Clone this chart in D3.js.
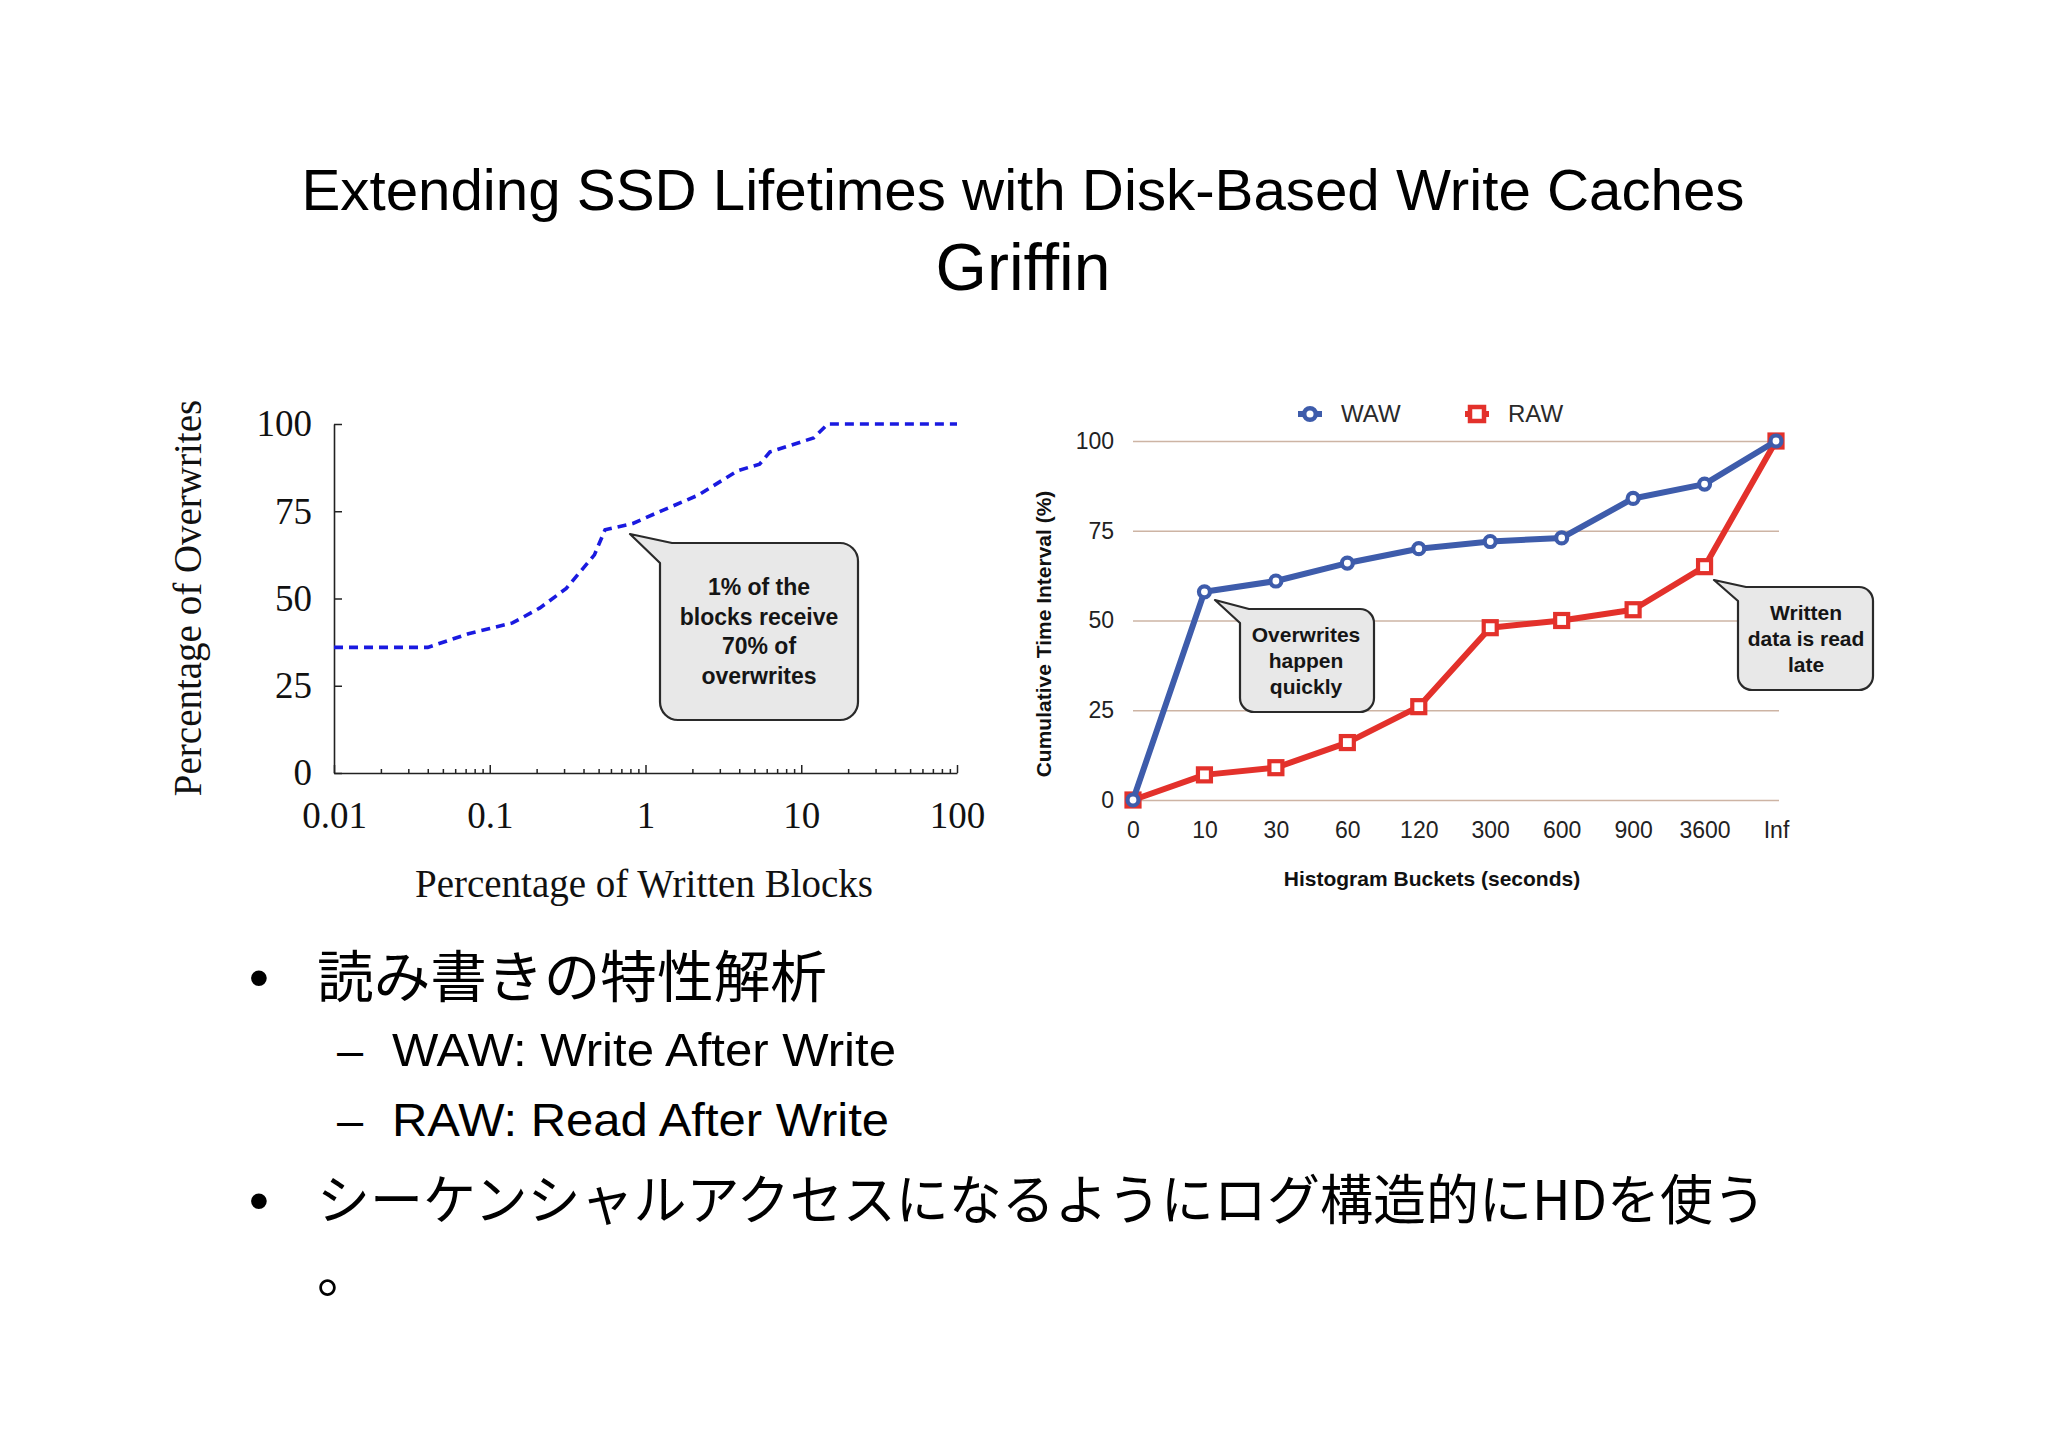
<!DOCTYPE html>
<html>
<head>
<meta charset="utf-8">
<script src="https://cdn.jsdelivr.net/npm/d3@7"></script>
<style>
  html, body { margin: 0; padding: 0; background: #fff; }
  svg { display: block; }
  .serif text, text.serif { font-family: "Liberation Serif", "DejaVu Serif", serif; }
  .sans { font-family: "Liberation Sans", Arial, sans-serif; }
</style>
</head>
<body>
<script>
// left chart: cumulative overwrites vs written blocks (log x)
const blocksPct = [0.01, 0.04, 0.073, 0.1, 0.14, 0.21, 0.31, 0.47, 0.55, 0.83, 1.15, 2.2, 3.9, 5.4, 6.3, 12, 14.8, 100];
const overwritesPct = [36, 36, 39.9, 41.4, 43, 47.3, 52.9, 62.5, 69.7, 71.5, 74.3, 79.7, 86.6, 88.5, 92, 96, 100, 100];
const leftXTicks = [0.01, 0.1, 1, 10, 100];
const leftXLabels = ['0.01', '0.1', '1', '10', '100'];
const leftYTicks = [0, 25, 50, 75, 100];

// right chart: histogram buckets
const buckets = ['0', '10', '30', '60', '120', '300', '600', '900', '3600', 'Inf'];
const waw = [0, 58, 61, 66, 70, 72, 73, 84, 88, 100];
const raw = [0, 7, 9, 16, 26, 48, 50, 53, 65, 100];
const rightYTicks = [0, 25, 50, 75, 100];

const W = 2048, H = 1447;
const svg = d3.select('body').append('svg')
  .attr('width', W)
  .attr('height', H);

svg.append('rect').attr('width', W).attr('height', H).attr('fill', '#fff');

// ---- titles
svg.append('text')
  .attr('class', 'sans')
  .attr('x', 1023).attr('y', 210)
  .attr('text-anchor', 'middle')
  .attr('font-size', 58)
  .attr('textLength', 1443)
  .attr('lengthAdjust', 'spacingAndGlyphs')
  .text('Extending SSD Lifetimes with Disk-Based Write Caches');

svg.append('text')
  .attr('class', 'sans')
  .attr('x', 1023).attr('y', 290)
  .attr('text-anchor', 'middle')
  .attr('font-size', 66)
  .text('Griffin');

// ---- left chart
const xL = d3.scaleLog().domain([0.01, 100]).range([334, 957]);
const yL = d3.scaleLinear().domain([0, 100]).range([773, 424]);

const gL = svg.append('g').attr('class', 'serif');

// minor ticks (2..9 in each decade)
gL.append('g')
  .attr('transform', 'translate(0,773)')
  .call(d3.axisBottom(xL)
    .tickValues(xL.ticks().filter(d => !leftXTicks.includes(d)))
    .tickSizeInner(-4).tickSizeOuter(0).tickFormat(''))
  .call(g => g.select('.domain').remove())
  .selectAll('line').attr('stroke', '#222').attr('stroke-width', 1.5);

gL.append('g')
  .attr('transform', 'translate(0,773)')
  .call(d3.axisBottom(xL)
    .tickValues(leftXTicks)
    .tickSizeInner(-8).tickSizeOuter(0).tickPadding(29)
    .tickFormat((d, i) => leftXLabels[i]))
  .call(g => g.select('.domain').attr('stroke', '#222').attr('stroke-width', 1.6))
  .call(g => g.selectAll('line').attr('stroke', '#222').attr('stroke-width', 1.5))
  .call(g => g.selectAll('text')
    .attr('font-size', 37).attr('fill', '#111')
    .attr('font-family', '"Liberation Serif", serif'));

gL.append('g')
  .attr('transform', 'translate(334,0)')
  .call(d3.axisLeft(yL)
    .tickValues(leftYTicks)
    .tickSizeInner(-8).tickSizeOuter(0).tickPadding(22))
  .call(g => g.select('.domain').attr('stroke', '#222').attr('stroke-width', 1.6))
  .call(g => g.selectAll('line').attr('stroke', '#222').attr('stroke-width', 1.5))
  .call(g => g.selectAll('text')
    .attr('font-size', 37).attr('fill', '#111')
    .attr('font-family', '"Liberation Serif", serif'));

const leftLine = d3.line()
  .x((d, i) => xL(blocksPct[i]))
  .y(d => yL(d));

gL.append('path')
  .datum(overwritesPct)
  .attr('d', leftLine)
  .attr('fill', 'none')
  .attr('stroke', '#1a1ae0')
  .attr('stroke-width', 3.6)
  .attr('stroke-dasharray', '9,6');

gL.append('text')
  .attr('x', 644).attr('y', 883).attr('dy', '0.35em')
  .attr('text-anchor', 'middle')
  .attr('font-size', 39)
  .attr('fill', '#111')
  .text('Percentage of Written Blocks');

gL.append('text')
  .attr('transform', 'translate(187,598) rotate(-90)')
  .attr('dy', '0.35em')
  .attr('text-anchor', 'middle')
  .attr('font-size', 39)
  .attr('fill', '#111')
  .text('Percentage of Overwrites');

// speech bubble with pointer replacing the top-left corner
function bubblePath(x, y, w, h, r, tip, a, b) {
  return `M${x + a},${y} H${x + w - r} A${r},${r} 0 0 1 ${x + w},${y + r} ` +
    `V${y + h - r} A${r},${r} 0 0 1 ${x + w - r},${y + h} H${x + r} ` +
    `A${r},${r} 0 0 1 ${x},${y + h - r} V${y + b} L${tip[0]},${tip[1]} Z`;
}

function bubble(box, lines, fontSize, lineGap) {
  svg.append('path')
    .attr('d', bubblePath(box.x, box.y, box.w, box.h, box.r, box.tip, box.a, box.b))
    .attr('fill', '#e8e8e8')
    .attr('stroke', '#2a2a2a')
    .attr('stroke-width', 2.2)
    .attr('stroke-linejoin', 'round');
  svg.append('g')
    .selectAll('text')
    .data(lines)
    .join('text')
    .attr('class', 'sans')
    .attr('x', box.cx)
    .attr('y', (d, i) => box.ty + i * lineGap)
    .attr('dy', '0.35em')
    .attr('text-anchor', 'middle')
    .attr('font-size', fontSize)
    .attr('font-weight', 'bold')
    .attr('fill', '#151515')
    .text(d => d);
}

bubble({ x: 660, y: 543, w: 198, h: 177, r: 18, tip: [630, 534], a: 12, b: 20, cx: 759, ty: 587 },
  ['1% of the', 'blocks receive', '70% of', 'overwrites'], 23, 29.5);

// ---- right chart
const xR = d3.scalePoint().domain(buckets).range([1133, 1776]);
const yR = d3.scaleLinear().domain([0, 100]).range([800, 441]);
const wawColor = '#3e5cab';
const rawColor = '#e3312b';

const gR = svg.append('g').attr('class', 'sans');

gR.append('g')
  .attr('transform', 'translate(1133,0)')
  .call(d3.axisLeft(yR)
    .tickValues(rightYTicks)
    .tickSizeInner(-646).tickSizeOuter(0).tickPadding(19))
  .call(g => g.select('.domain').remove())
  .call(g => g.selectAll('line').attr('stroke', '#cdb4a4').attr('stroke-width', 1.5))
  .call(g => g.selectAll('text')
    .attr('font-size', 23).attr('fill', '#222')
    .attr('font-family', '"Liberation Sans", Arial, sans-serif'));

gR.append('g')
  .attr('transform', 'translate(0,800)')
  .call(d3.axisBottom(xR).tickSize(0).tickPadding(22))
  .call(g => g.select('.domain').remove())
  .call(g => g.selectAll('text')
    .attr('font-size', 23).attr('fill', '#222')
    .attr('font-family', '"Liberation Sans", Arial, sans-serif'));

const rightLine = d3.line()
  .x((d, i) => xR(buckets[i]))
  .y(d => yR(d));

function series(values, color, shape) {
  gR.append('path')
    .datum(values)
    .attr('d', rightLine)
    .attr('fill', 'none')
    .attr('stroke', color)
    .attr('stroke-width', 6)
    .attr('stroke-linejoin', 'round');
  const pts = gR.append('g').selectAll('g')
    .data(values)
    .join('g')
    .attr('transform', (d, i) => `translate(${xR(buckets[i])},${yR(d)})`);
  if (shape === 'circle') {
    pts.append('circle').attr('r', 5.5)
      .attr('fill', '#fff').attr('stroke', color).attr('stroke-width', 4.2);
  } else {
    pts.append('rect').attr('x', -6.5).attr('y', -6.5).attr('width', 13).attr('height', 13)
      .attr('fill', '#fff').attr('stroke', color).attr('stroke-width', 4.2);
  }
}

series(raw, rawColor, 'square');
series(waw, wawColor, 'circle');

// legend
const legend = [
  { name: 'WAW', color: wawColor, shape: 'circle', x: 1310 },
  { name: 'RAW', color: rawColor, shape: 'square', x: 1477 }
];
const lg = gR.append('g').selectAll('g')
  .data(legend)
  .join('g')
  .attr('transform', d => `translate(${d.x},414)`);
lg.append('line').attr('x1', -12).attr('x2', 12)
  .attr('stroke', d => d.color).attr('stroke-width', 6);
lg.filter(d => d.shape === 'circle').append('circle').attr('r', 5.8)
  .attr('fill', '#fff').attr('stroke', d => d.color).attr('stroke-width', 4.5);
lg.filter(d => d.shape === 'square').append('rect')
  .attr('x', -7).attr('y', -7).attr('width', 14).attr('height', 14)
  .attr('fill', '#fff').attr('stroke', d => d.color).attr('stroke-width', 4.5);
lg.append('text')
  .attr('x', 31).attr('dy', '0.35em')
  .attr('font-size', 24).attr('fill', '#2a2a2a')
  .text(d => d.name);

gR.append('text')
  .attr('x', 1432).attr('y', 879).attr('dy', '0.35em')
  .attr('text-anchor', 'middle')
  .attr('font-size', 21).attr('font-weight', 'bold').attr('fill', '#111')
  .text('Histogram Buckets (seconds)');

gR.append('text')
  .attr('transform', 'translate(1044,634) rotate(-90)')
  .attr('dy', '0.35em')
  .attr('text-anchor', 'middle')
  .attr('font-size', 21).attr('font-weight', 'bold').attr('fill', '#111')
  .text('Cumulative Time Interval (%)');

bubble({ x: 1240, y: 609, w: 134, h: 103, r: 14, tip: [1215, 600], a: 9, b: 14, cx: 1306, ty: 635 },
  ['Overwrites', 'happen', 'quickly'], 21, 25.8);
bubble({ x: 1738, y: 587, w: 135, h: 103, r: 14, tip: [1714, 580], a: 8, b: 14, cx: 1806, ty: 613 },
  ['Written', 'data is read', 'late'], 21, 25.8);

// ---- bullet text
const body = svg.append('g');
const jp = '"Noto Sans CJK JP", "Noto Sans CJK SC", sans-serif';

body.append('text').attr('class', 'sans')
  .attr('x', 259).attr('y', 997).attr('text-anchor', 'middle')
  .attr('font-size', 58).text('•');
body.append('text')
  .attr('x', 317).attr('y', 997)
  .attr('font-family', jp).attr('font-size', 56)
  .attr('textLength', 510).attr('lengthAdjust', 'spacingAndGlyphs')
  .text('読み書きの特性解析');

body.append('text').attr('class', 'sans')
  .attr('x', 337).attr('y', 1066).attr('font-size', 47).text('–');
body.append('text').attr('class', 'sans')
  .attr('x', 392).attr('y', 1066).attr('font-size', 47)
  .attr('textLength', 504).attr('lengthAdjust', 'spacingAndGlyphs')
  .text('WAW: Write After Write');

body.append('text').attr('class', 'sans')
  .attr('x', 337).attr('y', 1136).attr('font-size', 47).text('–');
body.append('text').attr('class', 'sans')
  .attr('x', 392).attr('y', 1136).attr('font-size', 47)
  .attr('textLength', 497).attr('lengthAdjust', 'spacingAndGlyphs')
  .text('RAW: Read After Write');

body.append('text').attr('class', 'sans')
  .attr('x', 259).attr('y', 1220).attr('text-anchor', 'middle')
  .attr('font-size', 58).text('•');
body.append('text')
  .attr('x', 317).attr('y', 1220)
  .attr('font-family', jp).attr('font-size', 54)
  .attr('textLength', 1449).attr('lengthAdjust', 'spacingAndGlyphs')
  .text('シーケンシャルアクセスになるようにログ構造的にHDを使う');
body.append('text')
  .attr('x', 317).attr('y', 1293)
  .attr('font-family', jp).attr('font-size', 54)
  .text('。');
</script>
</body>
</html>
